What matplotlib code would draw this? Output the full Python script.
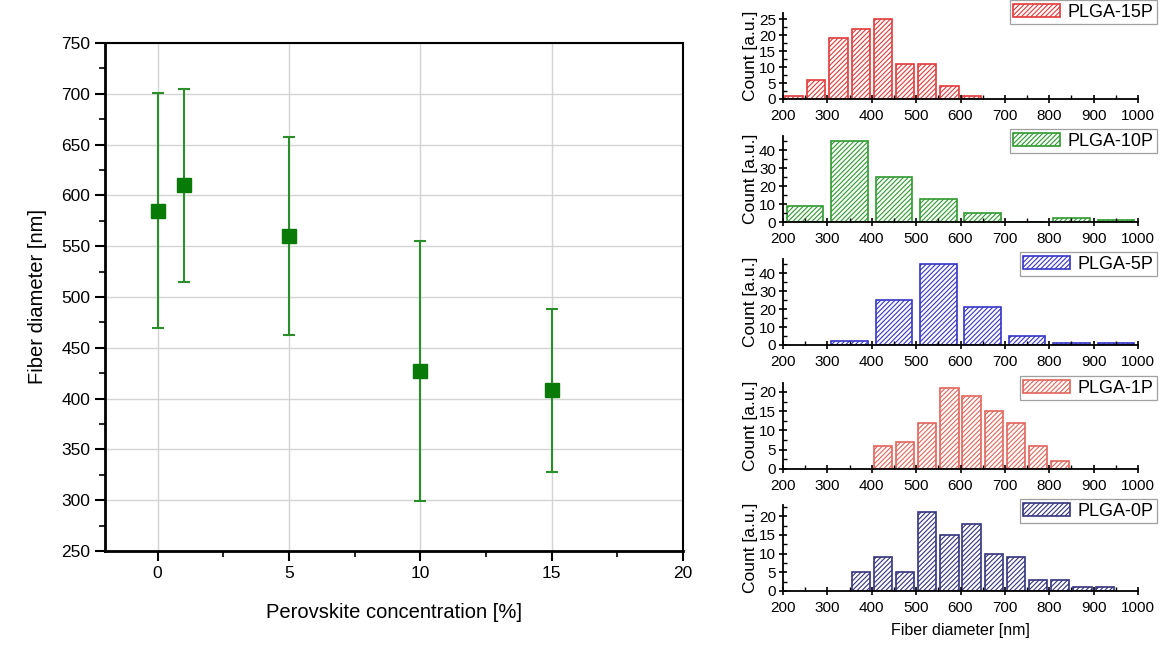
import matplotlib
matplotlib.use("Agg")
import matplotlib.pyplot as plt
from matplotlib.ticker import MultipleLocator

plt.rcParams['font.family'] = ['Liberation Sans', 'DejaVu Sans']
plt.rcParams['hatch.linewidth'] = 0.8

# left panel: mean fibre diameter vs perovskite content
conc = [0, 1, 5, 10, 15]
diam = [585, 610, 560, 427, 408]
diam_err = [116, 95, 97, 128, 80]

# histograms (left edge of bin, count)
h15_edges = [200, 250, 300, 350, 400, 450, 500, 550, 600]
h15_counts = [1, 6, 19, 22, 25, 11, 11, 4, 1]
h10_edges = [200, 300, 400, 500, 600, 700, 800, 900]
h10_counts = [9, 45, 25, 13, 5, 0, 2, 1]
h5_edges = [300, 400, 500, 600, 700, 800, 900]
h5_counts = [2, 25, 45, 21, 5, 1, 1]
h1_edges = [400, 450, 500, 550, 600, 650, 700, 750, 800]
h1_counts = [6, 7, 12, 21, 19, 15, 12, 6, 2]
h0_edges = [350, 400, 450, 500, 550, 600, 650, 700, 750, 800, 850, 900]
h0_counts = [5, 9, 5, 21, 15, 18, 10, 9, 3, 3, 1, 1]

W, H = 1160, 655
fig = plt.figure(figsize=(W / 100, H / 100), dpi=100)

# ---- left scatter with error bars
ax = fig.add_axes([105 / W, 1 - 551 / H, 578 / W, 508 / H])
ax.errorbar(conc, diam, yerr=diam_err, fmt='s', color='#087a08', ecolor='#2a8f2a',
            elinewidth=1.5, capsize=4, capthick=1.5, markersize=10, zorder=3)
ax.set_xlim(-2, 20)
ax.set_ylim(250, 750)
ax.xaxis.set_major_locator(MultipleLocator(5))
ax.xaxis.set_minor_locator(MultipleLocator(2.5))
ax.yaxis.set_major_locator(MultipleLocator(50))
ax.yaxis.set_minor_locator(MultipleLocator(25))
ax.grid(True, which='major', color='#d4d4d4', linewidth=1)
ax.tick_params(which='major', direction='out', length=7, width=1.5, labelsize=12.5)
ax.tick_params(which='minor', direction='out', length=4, width=1.2)
for s in ['left', 'bottom']:
    ax.spines[s].set_linewidth(2)
for s in ['top', 'right']:
    ax.spines[s].set_linewidth(1.5)
ax.set_xlabel('Perovskite concentration [%]', fontsize=14.5, labelpad=16)
ax.set_ylabel('Fiber diameter [nm]', fontsize=14.5, labelpad=10)

# ---- right histograms
panels = [
    (h15_edges, h15_counts, 50, 'PLGA-15P', '#e23a3a', 99, 27, 5, 0),
    (h10_edges, h10_counts, 100, 'PLGA-10P', '#2f9a2f', 222, 48, 10, 129),
    (h5_edges, h5_counts, 100, 'PLGA-5P', '#3535c8', 345, 48, 10, 252),
    (h1_edges, h1_counts, 50, 'PLGA-1P', '#e2655a', 469, 22.3, 5, 376),
    (h0_edges, h0_counts, 50, 'PLGA-0P', '#34347e', 591, 23, 5, 499),
]
for edges, counts, bw, name, col, ybot, ymax, ystep, legtop in panels:
    hx = fig.add_axes([783 / W, 1 - ybot / H, 355 / W, 86 / H])
    centers = [e + bw / 2 for e in edges]
    hx.bar(centers, counts, width=bw * 0.82, facecolor='white', edgecolor=col,
           hatch='///////', linewidth=1.2, label=name)
    hx.set_xlim(200, 1000)
    hx.set_ylim(0, ymax)
    hx.xaxis.set_major_locator(MultipleLocator(100))
    hx.xaxis.set_minor_locator(MultipleLocator(50))
    hx.yaxis.set_major_locator(MultipleLocator(ystep))
    hx.yaxis.set_minor_locator(MultipleLocator(ystep / 2))
    hx.tick_params(which='major', direction='inout', length=6, width=1.2, labelsize=11)
    hx.tick_params(axis='y', which='major', pad=2)
    hx.tick_params(axis='x', which='major', pad=4)
    hx.tick_params(which='minor', direction='in', length=3, width=1)
    for s in ['top', 'right']:
        hx.spines[s].set_visible(False)
    for s in ['left', 'bottom']:
        hx.spines[s].set_linewidth(1.3)
    hx.set_ylabel('Count [a.u.]', fontsize=12.5, labelpad=1)
    leg = hx.legend(loc='upper right', bbox_to_anchor=(1157 / W, 1 - legtop / H),
                    bbox_transform=fig.transFigure, fontsize=13, frameon=True,
                    fancybox=False, edgecolor='#888888', borderpad=0.2,
                    handlelength=2.6, handleheight=0.8, handletextpad=0.4,
                    borderaxespad=0)
    leg.get_frame().set_linewidth(0.9)
    if name == 'PLGA-0P':
        hx.set_xlabel('Fiber diameter [nm]', fontsize=11.5, labelpad=6)

fig.savefig('out.png', dpi=100)
